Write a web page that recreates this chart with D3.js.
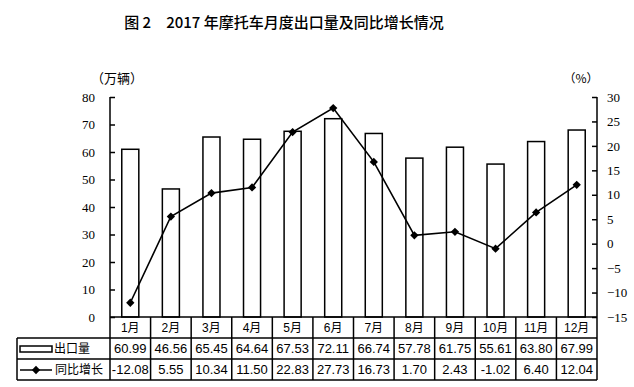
<!DOCTYPE html>
<html>
<head>
<meta charset="utf-8">
<script src="https://cdn.jsdelivr.net/npm/d3@7"></script>
<style>
body { margin: 0; background: #fff; }
svg { display: block; }
.axis text { font-family: "Liberation Serif", "DejaVu Serif", serif; font-size: 13px; }
</style>
</head>
<body>
<svg id="chart"></svg>
<script>
"use strict";

var width = 634,
    height = 387;

var months = ["1月", "2月", "3月", "4月", "5月", "6月", "7月", "8月", "9月", "10月", "11月", "12月"];
var exportVol = [60.99, 46.56, 65.45, 64.64, 67.53, 72.11, 66.74, 57.78, 61.75, 55.61, 63.80, 67.99];
var growth = [-12.08, 5.55, 10.34, 11.50, 22.83, 27.73, 16.73, 1.70, 2.43, -1.02, 6.40, 12.04];
var leftTicks = [0, 10, 20, 30, 40, 50, 60, 70, 80];
var rightTicks = [-15, -10, -5, 0, 5, 10, 15, 20, 25, 30];

var plotL = 110, plotR = 597, plotT = 97, plotB = 317;
var rowH = 21, tableLeft = 17;

var x = d3.scaleBand().domain(months).range([plotL, plotR]).padding(0);
var yL = d3.scaleLinear().domain([0, 80]).range([plotB, plotT]);
var yR = d3.scaleLinear().domain([-15, 30]).range([plotB, plotT]);

var svg = d3.select("#chart")
    .attr("width", width)
    .attr("height", height);

// title
svg.append("text")
    .attr("x", 284)
    .attr("y", 28)
    .attr("text-anchor", "middle")
    .style("font-family", "'Noto Sans CJK SC'")
    .style("font-size", "15px")
    .style("font-weight", 500)
    .text("图 2　2017 年摩托车月度出口量及同比增长情况");

svg.append("text")
    .attr("x", 117).attr("y", 83)
    .attr("text-anchor", "middle")
    .style("font-family", "'Noto Sans CJK SC'")
    .style("font-size", "13px")
    .text("（万辆）");

svg.append("text")
    .attr("x", 581).attr("y", 83)
    .attr("text-anchor", "middle")
    .style("font-family", "'Noto Sans CJK SC'")
    .style("font-size", "12px")
    .text("（%）");

// bars
var bw = x.bandwidth() * 0.42;
svg.selectAll(".bar")
    .data(exportVol)
    .enter()
    .append("rect")
    .attr("class", "bar")
    .attr("x", function (d, i) { return x(months[i]) + (x.bandwidth() - bw) / 2; })
    .attr("y", function (d) { return yL(d); })
    .attr("width", bw)
    .attr("height", function (d) { return plotB - yL(d); })
    .attr("fill", "#fff")
    .attr("stroke", "#000")
    .attr("stroke-width", 1.5);

// axes (ticks point inward)
var axisL = svg.append("g")
    .attr("class", "axis")
    .attr("transform", "translate(" + plotL + ",0)")
    .call(d3.axisLeft(yL).tickValues(leftTicks).tickSize(-5).tickPadding(15));
var axisR = svg.append("g")
    .attr("class", "axis")
    .attr("transform", "translate(" + plotR + ",0)")
    .call(d3.axisRight(yR).tickValues(rightTicks).tickSize(-5).tickPadding(15)
        .tickFormat(function (d) { return d < 0 ? "−" + (-d) : d; }));

[axisL, axisR].forEach(function (a) {
    a.attr("font-family", null).attr("font-size", null);
    a.select(".domain").attr("stroke-width", 1.5).attr("d", "M0," + plotT + "V" + plotB);
    a.selectAll(".tick line").attr("stroke-width", 1.5);
    a.selectAll(".tick text").attr("fill", "#000");
});
axisR.selectAll(".tick text").attr("x", 10);

// line
var line = d3.line()
    .x(function (d, i) { return x(months[i]) + x.bandwidth() / 2; })
    .y(function (d) { return yR(d); });

svg.append("path")
    .datum(growth)
    .attr("d", line)
    .attr("fill", "none")
    .attr("stroke", "#000")
    .attr("stroke-width", 1.6);

var diamond = d3.symbol().type(d3.symbolDiamond2).size(44);
svg.selectAll(".pt")
    .data(growth)
    .enter()
    .append("path")
    .attr("class", "pt")
    .attr("d", diamond)
    .attr("transform", function (d, i) {
        return "translate(" + (x(months[i]) + x.bandwidth() / 2) + "," + yR(d) + ")";
    })
    .attr("fill", "#000");

// data table
var table = svg.append("g")
    .attr("stroke", "#000")
    .attr("stroke-width", 1.5);

table.append("line").attr("x1", plotL).attr("x2", plotR).attr("y1", plotB).attr("y2", plotB);
[1, 2, 3].forEach(function (r) {
    table.append("line")
        .attr("x1", tableLeft).attr("x2", plotR)
        .attr("y1", plotB + rowH * r).attr("y2", plotB + rowH * r);
});
table.append("line").attr("x1", tableLeft).attr("x2", tableLeft)
    .attr("y1", plotB + rowH).attr("y2", plotB + rowH * 3);
months.forEach(function (m) {
    table.append("line")
        .attr("x1", x(m)).attr("x2", x(m))
        .attr("y1", plotB).attr("y2", plotB + rowH * 3);
});
table.append("line").attr("x1", plotR).attr("x2", plotR)
    .attr("y1", plotB).attr("y2", plotB + rowH * 3);

function cellText(vals, row, fmt, size) {
    svg.selectAll(".row" + row)
        .data(vals)
        .enter()
        .append("text")
        .attr("class", "row" + row)
        .attr("x", function (d, i) { return x(months[i]) + x.bandwidth() / 2; })
        .attr("y", plotB + rowH * row + 15)
        .attr("text-anchor", "middle")
        .style("font-family", "'Liberation Sans', 'Noto Sans CJK SC'")
        .style("font-size", size + "px")
        .text(fmt);
}
cellText(months, 0, function (d) { return d; }, 12);
cellText(exportVol, 1, function (d) { return d.toFixed(2); }, 13);
cellText(growth, 2, function (d) { return d.toFixed(2); }, 13);

// legend column
svg.append("rect")
    .attr("x", 20).attr("y", plotB + rowH + 8)
    .attr("width", 32).attr("height", 6)
    .attr("fill", "#fff").attr("stroke", "#000").attr("stroke-width", 1.5);
svg.append("text")
    .attr("x", 54).attr("y", plotB + rowH + 15)
    .style("font-family", "'Noto Sans CJK SC'")
    .style("font-size", "12px")
    .text("出口量");

svg.append("line")
    .attr("x1", 20).attr("x2", 52)
    .attr("y1", plotB + rowH * 2 + 11).attr("y2", plotB + rowH * 2 + 11)
    .attr("stroke", "#000").attr("stroke-width", 1.5);
svg.append("path")
    .attr("d", diamond)
    .attr("transform", "translate(36," + (plotB + rowH * 2 + 11) + ")");
svg.append("text")
    .attr("x", 55).attr("y", plotB + rowH * 2 + 15)
    .style("font-family", "'Noto Sans CJK SC'")
    .style("font-size", "12px")
    .text("同比增长");
</script>
</body>
</html>
